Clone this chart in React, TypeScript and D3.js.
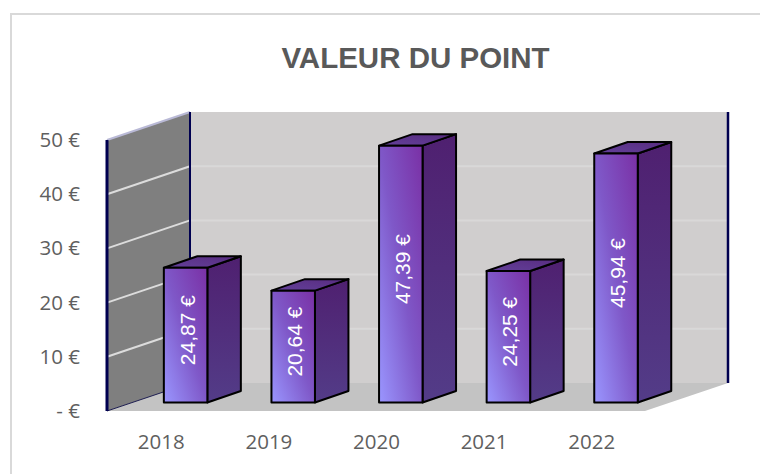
import React from "react";
import * as d3 from "d3";

const years = ["2018", "2019", "2020", "2021", "2022"];
const values = [24.87, 20.64, 47.39, 24.25, 45.94];
const valueLabels = ["24,87 €", "20,64 €", "47,39 €", "24,25 €", "45,94 €"];
const ticks = [0, 10, 20, 30, 40, 50];
const tickLabels = ["- €", "10 €", "20 €", "30 €", "40 €", "50 €"];

const W = 760, H = 474;
const left = 107, right = 645, floorY = 411, topY = 140;
const dx = 83, dy = -28; // chart depth
const barW = 43.5, barDx = 33.5, barDy = -11.5;
const inset = { x: 24.8, y: -8.5 };

const x = d3.scaleBand<string>().domain(years).range([left, right]).padding(0);
const y = d3.scaleLinear().domain([0, 50]).range([floorY, topY]);
const poly = (pts: [number, number][]) => d3.line()(pts) + "Z";
const font = "'Open Sans', 'Noto Sans', sans-serif";

export default function App() {
  return (
    <svg width={W} height={H} style={{ position: "absolute", left: 0, top: 0, background: "#fff" }}>
      <defs>
        <linearGradient id="front" x1="0" y1="1" x2="1" y2="0">
          <stop offset="0" stopColor="#9a96ff" />
          <stop offset="0.5" stopColor="#7f58c8" />
          <stop offset="1" stopColor="#7a30a5" />
        </linearGradient>
        <linearGradient id="side" x1="0" y1="0" x2="0" y2="1">
          <stop offset="0" stopColor="#4f2070" />
          <stop offset="1" stopColor="#533c88" />
        </linearGradient>
        <linearGradient id="top" x1="0" y1="1" x2="1" y2="0">
          <stop offset="0" stopColor="#63409a" />
          <stop offset="1" stopColor="#582c80" />
        </linearGradient>
      </defs>
      <line x1={11} y1={14} x2={W} y2={14} stroke="#d9d9d9" strokeWidth={2} />
      <line x1={11} y1={13} x2={11} y2={H} stroke="#d9d9d9" strokeWidth={2} />
      <text x={415.5} y={68} textAnchor="middle" fontFamily="'Liberation Sans', Arial, sans-serif" fontWeight="bold" fontSize={29.5} fill="#595959">VALEUR DU POINT</text>

      {/* back wall */}
      <rect x={left + dx} y={topY + dy} width={right - left} height={floorY - topY} fill="#d0cece" />
      {/* floor */}
      <path d={poly([[left, floorY], [left + dx, floorY + dy], [right + dx, floorY + dy], [right, floorY]])} fill="#c3c3c3" />
      {/* side wall */}
      <path d={poly([[left, floorY], [left, topY], [left + dx, topY + dy], [left + dx, floorY + dy]])} fill="#7f7f7f" />
      {/* grid */}
      {ticks.slice(1).map((t) => (
        <g key={t} stroke="#d9d8d8" strokeWidth={2} fill="none">
          <line x1={left} y1={y(t)} x2={left + dx} y2={y(t) + dy} stroke={t === 50 ? "#b9b9d6" : "#dcdcdc"} />
          {t !== 50 && <line x1={left + dx} y1={y(t) + dy} x2={right + dx} y2={y(t) + dy} />}
        </g>
      ))}
      <line x1={left} y1={floorY} x2={left + dx} y2={floorY + dy} stroke="#1c1c50" strokeWidth={1} />
      <line x1={left} y1={topY} x2={left} y2={floorY} stroke="#000050" strokeWidth={3} />
      <line x1={left + dx} y1={topY + dy} x2={left + dx} y2={floorY + dy} stroke="#000050" strokeWidth={2} />
      <line x1={right + dx} y1={topY + dy} x2={right + dx} y2={floorY + dy} stroke="#000050" strokeWidth={2.5} />

      {/* bars */}
      {years.map((yr, i) => {
        const x0 = (x(yr) as number) + x.bandwidth() / 2 - barW / 2 + inset.x;
        const x1 = x0 + barW;
        const b = floorY + inset.y;
        const t = y(values[i]) + inset.y;
        return (
          <g key={yr} stroke="#000" strokeWidth={2} strokeLinejoin="round">
            <path d={poly([[x1, b], [x1, t], [x1 + barDx, t + barDy], [x1 + barDx, b + barDy]])} fill="url(#side)" />
            <path d={poly([[x0, t], [x1, t], [x1 + barDx, t + barDy], [x0 + barDx, t + barDy]])} fill="url(#top)" />
            <rect x={x0} y={t} width={barW} height={b - t} fill="url(#front)" />
            <text
              transform={`translate(${x0 + barW / 2 + 9},${(t + b) / 2 - 5}) rotate(-90)`}
              textAnchor="middle"
              stroke="none"
              fill="#fff"
              fontFamily="'Liberation Sans', Arial, sans-serif"
              fontSize={21}
            >{valueLabels[i]}</text>
          </g>
        );
      })}

      {/* axis labels */}
      {ticks.map((t, i) => (
        <text key={t} x={80} y={y(t) + 7} textAnchor="end" fontFamily={font} fontSize={20.5} fill="#5f5f5f">{tickLabels[i]}</text>
      ))}
      {years.map((yr) => (
        <text key={yr} x={(x(yr) as number) + x.bandwidth() / 2 + 0.5} y={449} textAnchor="middle" fontFamily={font} fontSize={20.5} fill="#5f5f5f">{yr}</text>
      ))}
    </svg>
  );
}
